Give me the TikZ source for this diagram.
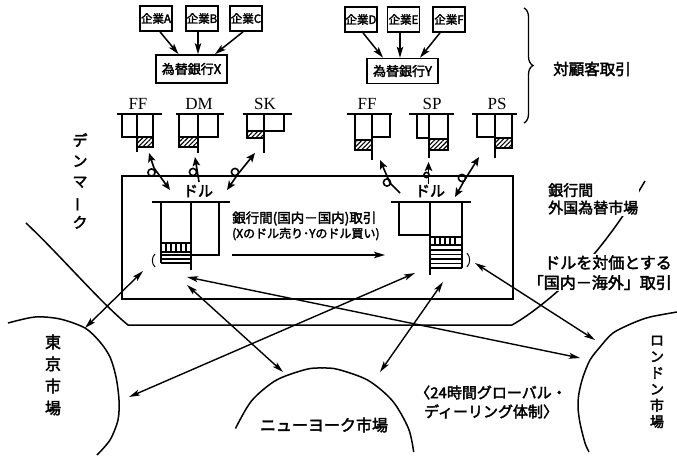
\documentclass[tikz,border=0pt]{standalone}
\usepackage{fontspec}
\usepackage{graphicx}
\setmainfont{Liberation Serif}
\newfontfamily\jpfont[AutoFakeBold=2.5]{Noto Sans CJK JP}
\newcommand{\jp}{\jpfont\bfseries}
\usetikzlibrary{arrows.meta,patterns.meta,decorations.pathreplacing}
\begin{document}
\begin{tikzpicture}[x=1pt,y=-1pt,
  cbox/.style={draw,line width=1.7pt,minimum width=32pt,minimum height=25pt,inner sep=0pt,font=\jp\fontsize{11.5}{12}\selectfont},
  bbox/.style={draw,line width=1.7pt,minimum width=71pt,minimum height=26pt,inner sep=0pt,font=\jp\fontsize{13}{14}\selectfont},
  cur/.style={font=\fontsize{17}{17}\selectfont,inner sep=0pt},
  lbl/.style={font=\jp\fontsize{15}{18}\selectfont,inner sep=1pt},
  vt/.style={align=center,inner sep=0pt},
  arr/.style={line width=1.5pt,-{Stealth[length=11pt,width=6.5pt,inset=2.5pt]}},
  darr/.style={line width=1.4pt,{Stealth[length=11pt,width=6pt,inset=2.5pt]}-{Stealth[length=11pt,width=6pt,inset=2.5pt]}},
  sarr/.style={line width=1.6pt,-{Stealth[length=9pt,width=7.5pt,inset=2pt]}},
  sdarr/.style={line width=1.6pt,{Stealth[length=9pt,width=7.5pt,inset=2pt]}-{Stealth[length=9pt,width=7.5pt,inset=2pt]}},
  acc/.style={line width=1.5pt},
  hatch/.style={draw,line width=1.2pt,pattern={Lines[angle=45,distance=3.2pt,line width=1.1pt]}},
  bound/.style={line width=1.5pt},
  loopc/.style={line width=1.6pt}
]
\useasboundingbox (0,0) rectangle (677,457);

% ---------- companies and banks ----------
\node[cbox] (cA) at (156,18.5) {企業A};
\node[cbox] (cB) at (202,18.5) {企業B};
\node[cbox] (cC) at (246,18.5) {企業C};
\node[bbox,minimum height=28pt] (bX) at (191.5,69) {為替銀行X};
\node[cbox] (cD) at (361,19.5) {企業D};
\node[cbox] (cE) at (403.5,19.5) {企業E};
\node[cbox] (cF) at (449,19.5) {企業F};
\node[bbox,minimum height=25pt] (bY) at (402.5,71) {為替銀行Y};

\draw[arr] ([xshift=4pt]cA.south) -- ([xshift=-13pt]bX.north);
\draw[arr] ([xshift=-4pt]cB.south) -- ([xshift=6.5pt]bX.north);
\draw[arr] ([xshift=-3pt]cC.south) -- ([xshift=23.5pt]bX.north);
\draw[arr] ([xshift=2pt]cD.south) -- ([xshift=-19.5pt]bY.north);
\draw[arr] ([xshift=-3.5pt]cE.south) -- ([xshift=-2.5pt]bY.north);
\draw[arr] ([xshift=-9pt]cF.south) -- ([xshift=17.5pt]bY.north);

% brace
\draw[line width=1.3pt,decorate,decoration={brace,amplitude=9pt}] (524,8) -- (524,123);
\node[lbl,font=\jp\fontsize{15.5}{16}\selectfont] (taikokyaku) at (592,69) {対顧客取引};

% ---------- currency labels ----------
\node[cur] (lFF1) at (138,104) {FF};
\node[cur] (lDM) at (199,104) {DM};
\node[cur] (lSK) at (265,104) {SK};
\node[cur] (lFF2) at (367,104) {FF};
\node[cur] (lSP) at (432,104) {SP};
\node[cur] (lPS) at (497,104) {PS};

% ---------- T accounts ----------
% FF1
\draw[acc] (117,114) -- (162,114);
\draw[acc] (122,114) -- (122,137) -- (137,137);
\draw[acc] (137,114) -- (137,152);
\draw[acc] (153,114) -- (153,137);
\draw[hatch] (137,137) rectangle (153,147);
% DM
\draw[acc] (176,114) -- (224,114);
\draw[acc] (179,114) -- (179,137);
\draw[acc] (198,114) -- (198,153);
\draw[acc] (218,114) -- (218,137) -- (198,137);
\draw[hatch] (179,137) rectangle (198,147);
% SK
\draw[acc] (243,114) -- (292,114);
\draw[acc] (247,114) -- (247,131);
\draw[acc] (264,114) -- (264,153);
\draw[acc] (284,114) -- (284,131) -- (264,131);
\draw[hatch] (247,131) rectangle (264,138);
% FF2
\draw[acc] (347,114) -- (392,114);
\draw[acc] (355,114) -- (355,140);
\draw[acc] (372,114) -- (372,160);
\draw[acc] (390,114) -- (390,137) -- (372,137);
\draw[hatch] (355,140) rectangle (372,150);
% SP
\draw[acc] (409,114) -- (454,114);
\draw[acc] (417,114) -- (417,138) -- (429,138);
\draw[acc] (429,114) -- (429,158);
\draw[acc] (448,114) -- (448,138);
\draw[hatch] (429,139) rectangle (448,150);
% PS
\draw[acc] (472,114) -- (517,114);
\draw[acc] (477,114) -- (477,137) -- (495,137);
\draw[acc] (495,114) -- (495,158);
\draw[acc] (512,114) -- (512,138);
\draw[hatch] (495,138) rectangle (512,148);

% ---------- Denmark box ----------
\draw[acc] (122,176) rectangle (513,299);

% loop arrows across the border
\draw[sdarr] (149,153) -- (154,168) -- (170,190);
\draw[loopc] (151.5,172.5) circle (3.6);
\draw[sarr] (199,182) -- (195,157);
\draw[loopc] (193,172) circle (3.6);
\draw[sdarr] (227,190) -- (238,174) -- (255,153);
\draw[loopc] (235,172) circle (3.6);
\draw[sarr] (400,193) -- (390,183) -- (380,160);
\draw[loopc] (387,182.5) circle (3.6);
\draw[sarr] (428.5,184) -- (428.5,162);
\draw[loopc] (426.5,175) circle (2.6);
\draw[sdarr] (455,197) -- (464,181) -- (479,157);
\draw[loopc] (462,178) circle (3.6);

\node[lbl] (dolL) at (198,191) {ドル};
\node[lbl] (dolR) at (430,191) {ドル};

% inner T accounts
\draw[acc] (152,202) -- (230,202);
\draw[acc] (161,202) -- (161,263);
\draw[acc] (191,202) -- (191,270);
\draw[acc] (219,202) -- (219,255) -- (191,255);
\draw[acc,line width=1.2pt] (161,243) rectangle (191,252);
\foreach \xx in {166,171,176,181,186} \draw[line width=1.2pt] (\xx,243) -- (\xx,252);
\foreach \yy in {255,259,263} \draw[line width=1.3pt] (161,\yy) -- (191,\yy);
\draw[line width=1pt] (155,254) .. controls (151.5,257) and (151.5,264) .. (155,267);

\draw[acc] (391,202) -- (471,202);
\draw[acc] (399,202) -- (399,235) -- (430,235);
\draw[acc] (430,202) -- (430,275);
\draw[acc] (462,202) -- (462,268);
\draw[acc,line width=1.2pt] (430,237) rectangle (462,245);
\foreach \xx in {435,440,445,450,455} \draw[line width=1.2pt] (\xx,237) -- (\xx,245);
\foreach \yy in {250,254.5,259,263.5,268} \draw[line width=1.3pt] (430,\yy) -- (462,\yy);
\draw[line width=1pt] (467,253) .. controls (470.5,257) and (470.5,263) .. (467,267);

\node[font=\jp\fontsize{13.5}{16}\selectfont,anchor=west,inner sep=0pt] (ib1) at (232,218.5) {銀行間(国内－国内)取引};
\node[font=\jp\fontsize{12}{14}\selectfont,anchor=west,inner sep=0pt] (ib2) at (232,234) {(Xのドル売り･Yのドル買い)};
\coordinate (ia1) at (232,255);
\coordinate (ia2) at (385,255);
\draw[arr] (ia1) -- (ia2);

% ---------- interbank market boundary ----------
\draw[bound] (645,181) .. controls (625,215) and (600,250) .. (575,275)
  .. controls (555,295) and (530,315) .. (512,325) -- (128,325)
  .. controls (100,302) and (60,255) .. (26,223);

\node[font=\jp\fontsize{15}{17.5}\selectfont,align=left,anchor=north west,fill=white,inner sep=1pt] (interbank) at (547,182) {銀行間\\外国為替市場};
\node[font=\jp\fontsize{16}{20}\selectfont,align=right,anchor=north east,fill=white,inner sep=1pt] (dollarcross) at (673,254) {ドルを対価とする\\「国内－海外」取引};

\node[vt,font=\jp\fontsize{15}{20.5}\selectfont] (denmark) at (80,181) {デ\\ン\\マ\\\rotatebox[origin=c]{90}{ー}\\ク};

% ---------- markets ----------
\draw[bound] plot[smooth] coordinates {(8,323) (35,317) (60,319) (85,328) (100,342) (110,357) (116,377) (119,400) (118,420) (110,440) (97,455)};
\draw[bound] plot[smooth] coordinates {(235.5,428.5) (251.5,400.9) (276,380.3) (306,369.4) (322,368) (338,369.4) (368,380.3) (392.5,400.9) (408.5,428.5) (413.7,452)};
\draw[bound] plot[smooth] coordinates {(677,312) (650,317) (633,323) (613,333) (600,347) (590,360) (583,377) (579,393) (578,407) (580,423) (585,443) (589,452)};

\node[vt,font=\jp\fontsize{16}{22}\selectfont] (tokyo) at (53,375) {東\\京\\市\\場};
\node[vt,font=\jp\fontsize{14}{16.3}\selectfont] (london) at (657,382) {ロ\\ン\\ド\\ン\\市\\場};
\node[lbl,font=\jp\fontsize{16}{16}\selectfont] (ny) at (324,425) {ニューヨーク市場};
\node[font=\jp\fontsize{15}{19}\selectfont,align=center,inner sep=0pt] (glob) at (491,402) {〈24時間グローバル・\\ディーリング体制〉};

% ---------- market arrows ----------
\coordinate (tkA) at (85,328);  \coordinate (bxA) at (143,271);
\coordinate (tkB) at (129,397); \coordinate (byB) at (415,273);
\coordinate (bxC) at (187,277); \coordinate (ldC) at (580,358);
\coordinate (bxD) at (187,285); \coordinate (nyD) at (283,372);
\coordinate (nyE) at (380,372); \coordinate (byE) at (443,282);
\coordinate (byF) at (475,263); \coordinate (ldF) at (595,340);
\draw[darr] (tkA) -- (bxA);
\draw[darr] (tkB) -- (byB);
\draw[darr] (bxC) -- (ldC);
\draw[darr] (bxD) -- (nyD);
\draw[darr] (nyE) -- (byE);
\draw[darr] (byF) -- (ldF);
\end{tikzpicture}
\end{document}
